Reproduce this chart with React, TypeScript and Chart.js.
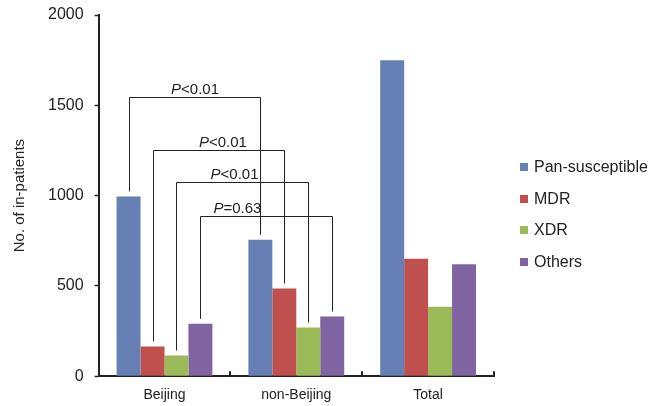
import React, { useEffect, useRef } from "react";
import { Chart, registerables } from "chart.js";

Chart.register(...registerables);

const categories = ["Beijing", "non-Beijing", "Total"];
const seriesNames = ["Pan-susceptible", "MDR", "XDR", "Others"];
const panSusceptible = [995, 755, 1750];
const mdr = [165, 485, 650];
const xdr = [115, 270, 385];
const others = [290, 330, 620];
const seriesColors = ["#6680B6", "#C0504D", "#9BBB59", "#8064A2"];
const yTicks = [0, 500, 1000, 1500, 2000];

// significance brackets: Beijing vs non-Beijing for each series
const bracketLevels = [1545, 1255, 1075, 885];
const bracketLabels = ["<0.01", "<0.01", "<0.01", "=0.63"];
const bracketLabelPos = [0.5, 0.53, 0.44, 0.28];

const FONT = "Arial, 'Liberation Sans', Helvetica, sans-serif";
const INK = "#222";

const overlayPlugin = {
  id: "overlay",
  afterDatasetsDraw(chart: any) {
    const ctx = chart.ctx as CanvasRenderingContext2D;
    const ys = chart.scales.y;
    const xs = chart.scales.x;
    const area = chart.chartArea;
    ctx.save();
    // brackets
    ctx.strokeStyle = INK;
    ctx.lineWidth = 1;
    bracketLevels.forEach((lvl, i) => {
      const meta = chart.getDatasetMeta(i);
      const a = meta.data[0];
      const b = meta.data[1];
      const yl = Math.round(ys.getPixelForValue(lvl)) + 0.5;
      const xa = Math.round(a.x) + 0.5;
      const xb = Math.round(b.x) + 0.5;
      const gap = 5;
      ctx.beginPath();
      ctx.moveTo(xa, a.y - gap);
      ctx.lineTo(xa, yl);
      ctx.lineTo(xb, yl);
      ctx.lineTo(xb, b.y - gap);
      ctx.stroke();
      // label
      const cx = xa + (xb - xa) * bracketLabelPos[i];
      const italic = "italic 15px " + FONT;
      const normal = "15px " + FONT;
      ctx.font = italic;
      const wP = ctx.measureText("P").width;
      ctx.font = normal;
      const wR = ctx.measureText(bracketLabels[i]).width;
      const x0 = cx - (wP + wR) / 2;
      ctx.fillStyle = INK;
      ctx.textBaseline = "alphabetic";
      ctx.textAlign = "left";
      ctx.font = italic;
      ctx.fillText("P", x0, yl - 3.5);
      ctx.font = normal;
      ctx.fillText(bracketLabels[i], x0 + wP, yl - 3.5);
    });
    // inward x-axis tick marks between categories
    ctx.lineWidth = 2;
    for (let j = 0; j <= categories.length; j++) {
      const px = Math.round(xs.getPixelForValue(j - 0.5));
      ctx.beginPath();
      ctx.moveTo(px, area.bottom);
      ctx.lineTo(px, area.bottom - 5);
      ctx.stroke();
    }
    // legend
    const rowY = [167, 199, 230, 262];
    ctx.font = "16px " + FONT;
    ctx.textBaseline = "middle";
    chart.data.datasets.forEach((ds: any, i: number) => {
      ctx.fillStyle = ds.backgroundColor;
      ctx.fillRect(520, rowY[i] - 4, 8, 8);
      ctx.fillStyle = INK;
      ctx.fillText(ds.label, 534, rowY[i] + 1);
    });
    ctx.restore();
  },
};

export default function App() {
  const ref = useRef<HTMLCanvasElement | null>(null);
  useEffect(() => {
    if (!ref.current) return;
    const seriesValues = [panSusceptible, mdr, xdr, others];
    const chart = new Chart(ref.current, {
      type: "bar",
      data: {
        labels: categories,
        datasets: seriesNames.map((name, i) => ({
          label: name,
          data: seriesValues[i],
          backgroundColor: seriesColors[i],
          borderWidth: 0,
          categoryPercentage: 0.727,
          barPercentage: 1,
        })),
      },
      options: {
        responsive: false,
        animation: false,
        layout: { padding: { left: 8, right: 156, top: 0, bottom: -9 } },
        plugins: {
          legend: { display: false },
          tooltip: { enabled: false },
        },
        scales: {
          x: {
            grid: { display: false, drawTicks: false, tickLength: 0 },
            border: { display: true, color: INK, width: 2 },
            ticks: {
              color: INK,
              font: { size: 14, family: FONT },
              padding: 11,
            },
          },
          y: {
            min: 0,
            max: 2000,
            afterBuildTicks: (scale: any) => {
              scale.ticks = yTicks.map((v) => ({ value: v }));
            },
            grid: {
              display: true,
              drawOnChartArea: false,
              drawTicks: true,
              tickLength: 4,
              tickColor: INK,
              tickWidth: 1.5,
            },
            border: { display: true, color: INK, width: 2 },
            ticks: {
              color: INK,
              font: { size: 16, family: FONT, lineHeight: 0.5 },
              padding: 11,
              callback: (v: any) => String(v),
            },
            title: {
              display: true,
              text: "No. of in-patients",
              color: INK,
              font: { size: 15, family: FONT },
              padding: { top: 3, bottom: 8 },
            },
          },
        },
      },
      plugins: [overlayPlugin],
    });
    return () => chart.destroy();
  }, []);
  return (
    <div style={{ position: "absolute", left: 0, top: 0, width: 650, height: 406, background: "#fff" }}>
      <canvas ref={ref} width={650} height={406} />
    </div>
  );
}
